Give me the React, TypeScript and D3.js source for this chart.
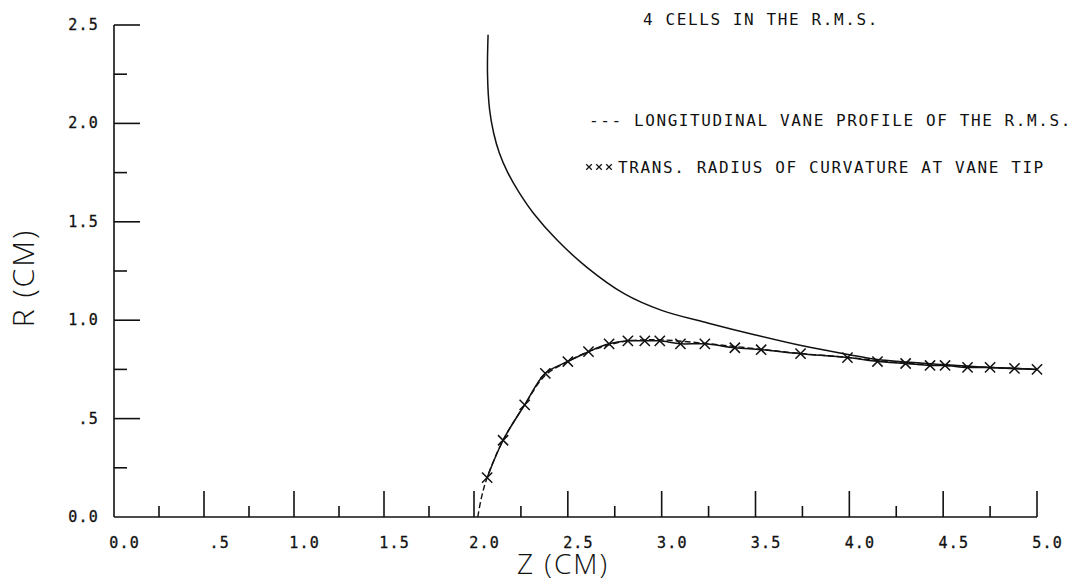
import React from "react";
import * as d3 from "d3";

// Axis tick values
const zMajorTicks = [0, 0.5, 1.0, 1.5, 2.0, 2.5, 3.0, 3.5, 4.0, 4.5, 5.0];
const zMinorTicks = [0.25, 0.75, 1.25, 1.75, 2.25, 2.75, 3.25, 3.75, 4.25, 4.75];
const zTickLabels = ["0.0", ".5", "1.0", "1.5", "2.0", "2.5", "3.0", "3.5", "4.0", "4.5", "5.0"];
const rMajorTicks = [0.5, 1.0, 1.5, 2.0, 2.5];
const rMinorTicks = [0.25, 0.75, 1.25, 1.75, 2.25];
const rTickLabels = ["0.0", ".5", "1.0", "1.5", "2.0", "2.5"];
const rLabelValues = [0, 0.5, 1.0, 1.5, 2.0, 2.5];

// Outer solid curve (Z, R), ordered by decreasing R
const outerZ = [2.075, 2.072, 2.083, 2.105, 2.135, 2.18, 2.24, 2.32, 2.44, 2.6, 2.8, 3.0, 3.25, 3.5, 3.75, 4.0, 4.15, 4.5, 4.75, 5.0];
const outerR = [2.45, 2.25, 2.07, 1.95, 1.85, 1.75, 1.65, 1.54, 1.41, 1.27, 1.135, 1.05, 0.985, 0.925, 0.87, 0.825, 0.8, 0.775, 0.76, 0.75];

// Longitudinal vane profile (dashed)
const vaneZ = [2.02, 2.04, 2.07, 2.155, 2.27, 2.38, 2.5, 2.61, 2.72, 2.82, 2.91, 3.0, 3.2, 3.5, 3.75, 4.0, 4.25, 4.5, 4.75, 5.0];
const vaneR = [0.0, 0.1, 0.2, 0.39, 0.57, 0.72, 0.79, 0.84, 0.875, 0.895, 0.9, 0.9, 0.885, 0.855, 0.83, 0.81, 0.785, 0.77, 0.76, 0.75];

// Transverse radius of curvature at vane tip (starred points)
const tipZ = [2.07, 2.155, 2.27, 2.38, 2.5, 2.61, 2.72, 2.82, 2.91, 2.99, 3.1, 3.23, 3.39, 3.53, 3.74, 3.99, 4.15, 4.3, 4.43, 4.51, 4.63, 4.75, 4.88, 5.0];
const tipR = [0.2, 0.39, 0.57, 0.73, 0.79, 0.84, 0.88, 0.895, 0.895, 0.895, 0.88, 0.88, 0.86, 0.85, 0.83, 0.81, 0.79, 0.78, 0.77, 0.77, 0.76, 0.76, 0.755, 0.75];

const W = 1084;
const H = 583;
const axisX = 114;
const axisY = 517;

const x = d3.scaleLinear().domain([0, 2, 5]).range([axisX, 474, 1037]);
const y = d3.scaleLinear().domain([0, 2.5]).range([axisY, 25]);

const monoFont = "'DejaVu Sans Mono', monospace";
const titleFont = "'Open Sans', 'DejaVu Sans', sans-serif";

export default function App() {
  const zip = (zs: number[], rs: number[]) => zs.map((z, i) => [z, rs[i]] as [number, number]);

  const line = d3
    .line<[number, number]>()
    .x((d) => x(d[0]))
    .y((d) => y(d[1]))
    .curve(d3.curveCatmullRom.alpha(0.5));

  const outerPath = line(zip(outerZ, outerR)) || "";
  const vanePath = line(zip(vaneZ, vaneR)) || "";
  const tipPath = line(zip(tipZ, tipR)) || "";
  const star = d3.symbol(d3.symbolTimes, 70)() || "";
  const legendStar = d3.symbol(d3.symbolTimes, 22)() || "";

  const stroke = "#111";

  return (
    <svg
      width={W}
      height={H}
      viewBox={`0 0 ${W} ${H}`}
      style={{ position: "absolute", left: 0, top: 0, background: "#fff" }}
    >
      {/* axes */}
      <g stroke={stroke} strokeWidth={1.6} fill="none">
        <line x1={axisX} y1={y(2.5)} x2={axisX} y2={axisY} />
        <line x1={axisX} y1={axisY} x2={x(5)} y2={axisY} />
        {rMajorTicks.map((v) => (
          <line key={"rm" + v} x1={axisX} x2={axisX + 26} y1={y(v)} y2={y(v)} />
        ))}
        {rMinorTicks.map((v) => (
          <line key={"rn" + v} x1={axisX} x2={axisX + 13} y1={y(v)} y2={y(v)} />
        ))}
        {zMajorTicks.slice(1).map((v) => (
          <line key={"zm" + v} x1={x(v)} x2={x(v)} y1={axisY} y2={axisY - 26} />
        ))}
        {zMinorTicks.map((v) => (
          <line key={"zn" + v} x1={x(v)} x2={x(v)} y1={axisY} y2={axisY - 11} />
        ))}
      </g>

      {/* tick labels */}
      <g
        fontFamily={monoFont}
        fontSize={15}
        fill={stroke}
        stroke={stroke}
        strokeWidth={0.3}
        letterSpacing={1.2}
      >
        {zMajorTicks.map((v, i) => (
          <text key={"zl" + v} x={x(v) + 26} y={axisY + 31} textAnchor="end">
            {zTickLabels[i]}
          </text>
        ))}
        {rLabelValues.map((v, i) => (
          <text key={"rl" + v} x={axisX - 15} y={y(v) + 5} textAnchor="end">
            {rTickLabels[i]}
          </text>
        ))}
      </g>

      {/* axis titles */}
      <text
        x={563}
        y={574}
        textAnchor="middle"
        fontFamily={titleFont}
        fontWeight={300}
        fontSize={28}
        letterSpacing={2}
        fill={stroke}
      >
        Z (CM)
      </text>
      <text
        transform="translate(34,278) rotate(-90)"
        textAnchor="middle"
        fontFamily={titleFont}
        fontWeight={300}
        fontSize={30}
        letterSpacing={2}
        fill={stroke}
      >
        R (CM)
      </text>

      {/* curves */}
      <path d={outerPath} fill="none" stroke={stroke} strokeWidth={1.5} />
      <path d={vanePath} fill="none" stroke={stroke} strokeWidth={1.4} strokeDasharray="6 3" />
      <path d={tipPath} fill="none" stroke={stroke} strokeWidth={1.5} />
      <g stroke={stroke} strokeWidth={1.5} fill="none">
        {tipZ.map((z, i) => (
          <path key={"s" + i} d={star} transform={`translate(${x(z)},${y(tipR[i])})`} />
        ))}
      </g>

      {/* annotations */}
      <g fontFamily={monoFont} fontSize={16} fill={stroke} letterSpacing={1.6}>
        <text x={643} y={25}>4 CELLS IN THE R.M.S.</text>
        <text x={589} y={126}>--- LONGITUDINAL VANE PROFILE OF THE R.M.S.</text>
        <text x={618} y={173}>TRANS. RADIUS OF CURVATURE AT VANE TIP</text>
      </g>
      <g stroke={stroke} strokeWidth={1.2} fill="none">
        {[0, 1, 2].map((k) => (
          <path key={"ls" + k} d={legendStar} transform={`translate(${589 + k * 10},${167})`} />
        ))}
      </g>
    </svg>
  );
}
